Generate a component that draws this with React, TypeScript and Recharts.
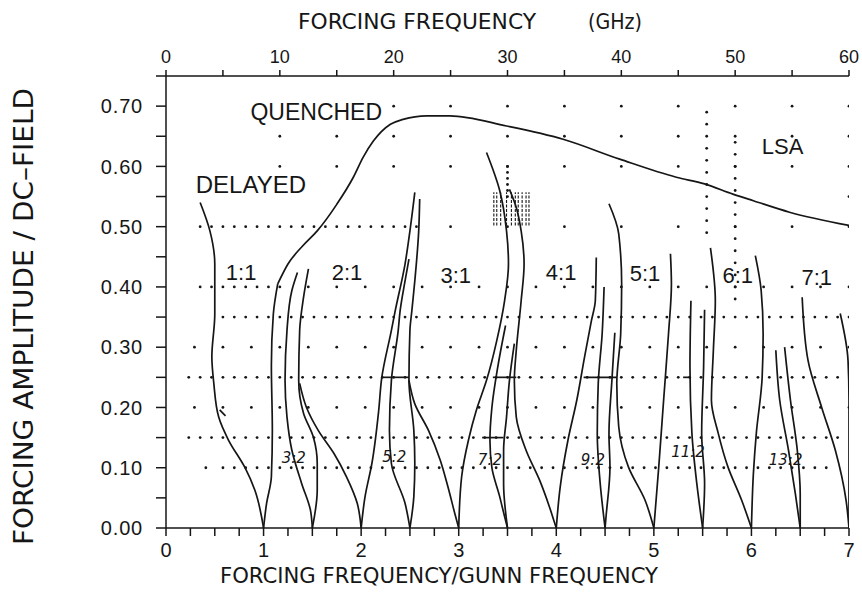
import React from "react";
import {
  ComposedChart,
  Line,
  Scatter,
  XAxis,
  YAxis,
  ReferenceDot,
  Customized,
} from "recharts";

// [ratio, amplitude] pairs
const delayed = [[1.0, 0], [0.91, 0.063], [0.81, 0.1], [0.64, 0.146], [0.54, 0.184], [0.49, 0.24], [0.47, 0.284], [0.5, 0.355], [0.5, 0.438], [0.45, 0.493], [0.35, 0.54]];
const delayedTick = [[0.55, 0.196], [0.61, 0.186]];
const oneOneRight = [[1.0, 0], [1.03, 0.04], [1.08, 0.085], [1.09, 0.162], [1.08, 0.27], [1.1, 0.355], [1.145, 0.405]];
const quenched = [[1.145, 0.405], [1.25, 0.438], [1.4, 0.468], [1.55, 0.493], [1.75, 0.537], [1.92, 0.582], [2.02, 0.615], [2.125, 0.642], [2.3, 0.67], [2.43, 0.678], [2.67, 0.684], [2.91, 0.684], [3.49, 0.667], [4.07, 0.645], [4.65, 0.612], [5.23, 0.582], [5.52, 0.571], [5.81, 0.554], [6.02, 0.543], [6.39, 0.524], [7.0, 0.502]];

const t32L = [[1.5, 0], [1.48, 0.03], [1.39, 0.074], [1.29, 0.129], [1.24, 0.184], [1.22, 0.245], [1.24, 0.328], [1.29, 0.394], [1.347, 0.424]];
const t32R = [[1.5, 0], [1.55, 0.063], [1.55, 0.107], [1.51, 0.151], [1.41, 0.19], [1.36, 0.245], [1.37, 0.328], [1.41, 0.383], [1.46, 0.43]];
const t21L = [[2.0, 0], [1.96, 0.041], [1.85, 0.085], [1.72, 0.124], [1.56, 0.162], [1.44, 0.2], [1.37, 0.24]];
const t21R = [[2.0, 0], [2.04, 0.052], [2.11, 0.107], [2.18, 0.195], [2.21, 0.248], [2.31, 0.328], [2.35, 0.361], [2.45, 0.438], [2.5, 0.493], [2.55, 0.557]];
const t52L = [[2.5, 0], [2.45, 0.041], [2.31, 0.107], [2.29, 0.162], [2.31, 0.245], [2.38, 0.328], [2.4, 0.361], [2.45, 0.41], [2.49, 0.446]];
const t52R = [[2.5, 0], [2.54, 0.052], [2.55, 0.107], [2.54, 0.162], [2.49, 0.245], [2.5, 0.328], [2.52, 0.361], [2.55, 0.41], [2.59, 0.493], [2.6, 0.546]];
const t31L = [[3.0, 0], [2.96, 0.024], [2.89, 0.068], [2.81, 0.113], [2.69, 0.162], [2.55, 0.206], [2.49, 0.245]];
const t31R = [[3.0, 0], [3.03, 0.085], [3.1, 0.146], [3.18, 0.195], [3.285, 0.245], [3.39, 0.311], [3.47, 0.377], [3.51, 0.438], [3.49, 0.493], [3.42, 0.56], [3.285, 0.623]];
const t72L = [[3.5, 0], [3.47, 0.019], [3.42, 0.052], [3.34, 0.1], [3.32, 0.146], [3.34, 0.2], [3.4, 0.267], [3.48, 0.336]];
const t72R = [[3.5, 0], [3.46, 0.074], [3.46, 0.129], [3.49, 0.184], [3.52, 0.245], [3.57, 0.306]];
const t41L = [[4.0, 0], [3.98, 0.01], [3.93, 0.035], [3.83, 0.079], [3.69, 0.129], [3.59, 0.184], [3.57, 0.245], [3.59, 0.295], [3.64, 0.377], [3.67, 0.438], [3.64, 0.493], [3.59, 0.532], [3.52, 0.562]];
const t41R = [[4.0, 0], [4.04, 0.068], [4.12, 0.146], [4.21, 0.212], [4.29, 0.284], [4.36, 0.344], [4.4, 0.377], [4.41, 0.449]];
const t92L = [[4.5, 0], [4.45, 0.074], [4.42, 0.157], [4.43, 0.24], [4.47, 0.322], [4.49, 0.4]];
const t92R = [[4.5, 0], [4.51, 0.019], [4.55, 0.101], [4.54, 0.157], [4.57, 0.245], [4.6, 0.324]];
const t51L = [[5.0, 0], [4.91, 0.046], [4.74, 0.101], [4.64, 0.168], [4.62, 0.24], [4.66, 0.322], [4.67, 0.405], [4.64, 0.488], [4.54, 0.538]];
const t51R = [[5.0, 0], [5.05, 0.101], [5.1, 0.212], [5.15, 0.322], [5.18, 0.405], [5.17, 0.455]];
const t112L = [[5.5, 0], [5.44, 0.074], [5.39, 0.157], [5.37, 0.267], [5.38, 0.377]];
const t112R = [[5.5, 0], [5.52, 0.074], [5.49, 0.157], [5.51, 0.267], [5.52, 0.362]];
const t61L = [[6.0, 0], [5.9, 0.046], [5.76, 0.101], [5.66, 0.157], [5.59, 0.212], [5.61, 0.295], [5.63, 0.377], [5.58, 0.465]];
const t61R = [[6.0, 0], [6.02, 0.09], [6.05, 0.157], [6.11, 0.25], [6.12, 0.322], [6.1, 0.394], [6.04, 0.452]];
const t132L = [[6.5, 0], [6.45, 0.057], [6.38, 0.129], [6.29, 0.212], [6.25, 0.295]];
const t132R = [[6.5, 0], [6.5, 0.057], [6.47, 0.129], [6.4, 0.212], [6.34, 0.3]];
const t71L = [[7.0, 0], [6.97, 0.046], [6.86, 0.129], [6.72, 0.2], [6.58, 0.278], [6.52, 0.383]];
const t71R = [[7.0, 0], [7.0, 0.212], [6.99, 0.278], [6.91, 0.356]];

// short solid bars [ratioFrom, ratioTo, amplitude]
const bars = [[2.21, 2.49, 0.25], [3.35, 3.59, 0.25], [3.24, 3.46, 0.15], [4.28, 4.62, 0.25], [5.3, 5.38, 0.25]];
// hatched strokes near 30 GHz
const hatchRatios = [3.36, 3.39, 3.43, 3.49, 3.54, 3.58, 3.61, 3.65, 3.69, 3.72];
const hatchSpan = [0.502, 0.557];

// dotted rows [amplitude, fromGHz, toGHz, stepGHz]
const dotRows = [
  [0.7, 20, 60, 5], [0.65, 10, 60, 5], [0.6, 10, 60, 5], [0.55, 60, 60, 5],
  [0.5, 3, 22, 1], [0.5, 25, 60, 5],
  [0.4, 3, 10, 1], [0.4, 12.5, 60, 2.5],
  [0.35, 5, 60, 1], [0.3, 2.5, 60, 2.5], [0.25, 2, 59, 1],
  [0.2, 2.5, 60, 2.5], [0.15, 2, 59, 1], [0.1, 5, 58, 1], [0.1, 3.5, 3.5, 1],
];
// dotted columns [GHz, fromAmp, toAmp, stepAmp]
const dotCols = [[47.5, 0.49, 0.7, 0.02], [50, 0.38, 0.65, 0.02], [30, 0.55, 0.6, 0.01]];

const bigLabels = [
  ["QUENCHED", 1.54, 0.69, 23], ["DELAYED", 0.87, 0.57, 24], ["LSA", 6.32, 0.634, 22],
  ["1:1", 0.77, 0.424, 22], ["2:1", 1.855, 0.424, 22], ["3:1", 2.97, 0.42, 22], ["4:1", 4.05, 0.424, 22],
  ["5:1", 4.91, 0.422, 22], ["6:1", 5.86, 0.419, 22], ["7:1", 6.67, 0.416, 22],
];
const handLabels = [
  ["3:2", 1.31, 0.116], ["5:2", 2.34, 0.118], ["7:2", 3.32, 0.113],
  ["9:2", 4.375, 0.113], ["11:2", 5.35, 0.126], ["13:2", 6.35, 0.113],
];

const ratioTicks = Array.from({ length: 29 }, (_, i) => i * 0.25);
const ghzTicks = Array.from({ length: 13 }, (_, i) => i * 5);
const ampTicks = Array.from({ length: 16 }, (_, i) => Math.round(i * 5) / 100);

const toPts = (arr: number[][]) => arr.map(([r, a]) => ({ r, a }));

const curves = [
  { id: "delayed", d: delayed, t: "monotoneY" },
  { id: "delayedTick", d: delayedTick, t: "linear" },
  { id: "oneOneRight", d: oneOneRight, t: "monotoneY" },
  { id: "quenched", d: quenched, t: "monotoneX" },
  ...[t32L, t32R, t21L, t21R, t52L, t52R, t31L, t31R, t72L, t72R, t41L, t41R, t92L, t92R, t51L, t51R, t112L, t112R, t61L, t61R, t132L, t132R, t71L, t71R].map(
    (d, i) => ({ id: "tongue" + i, d, t: "monotoneY" })
  ),
];

const gridDots: { g: number; a: number }[] = [];
dotRows.forEach(([a, from, to, step]) => {
  for (let g = from; g <= to + 1e-6; g += step) gridDots.push({ g, a });
});
dotCols.forEach(([g, from, to, step]) => {
  for (let a = from; a <= to + 1e-6; a += step) gridDots.push({ g, a });
});

const INK = "#161616";
const TICK_FONT = "'Liberation Sans', Arial, sans-serif";
const TITLE_FONT = "'DejaVu Sans Condensed', 'Liberation Sans Narrow', sans-serif";

const Titles = () => (
  <g fill={INK} fontFamily={TITLE_FONT}>
    <text x={298} y={29} fontSize={22} textLength={238} lengthAdjust="spacingAndGlyphs">FORCING FREQUENCY</text>
    <text x={588} y={29} fontSize={22} textLength={54} lengthAdjust="spacingAndGlyphs">(GHz)</text>
    <text x={220} y={583} fontSize={21} textLength={438} lengthAdjust="spacingAndGlyphs">FORCING FREQUENCY/GUNN FREQUENCY</text>
    <text transform="translate(33,545) rotate(-90)" fontSize={26} textLength={457} lengthAdjust="spacingAndGlyphs">
      FORCING  AMPLITUDE  /  DC–FIELD
    </text>
  </g>
);

export default function App() {
  return (
    <div style={{ position: "absolute", left: 0, top: 0, background: "#fff" }}>
      <ComposedChart width={862} height={609} margin={{ top: 0, right: 13, bottom: 0, left: 0 }}>
        <XAxis
          xAxisId="r"
          dataKey="r"
          type="number"
          domain={[0, 7]}
          ticks={ratioTicks}
          allowDataOverflow
          height={81}
          stroke={INK}
          strokeWidth={1.5}
          tickSize={8}
          tickMargin={7}
          tick={{ fill: INK, fontSize: 20, fontFamily: TICK_FONT }}
          tickFormatter={(v: number) => (Number.isInteger(v) ? String(v) : "")}
        />
        <XAxis
          xAxisId="ghz"
          dataKey="g"
          type="number"
          orientation="top"
          domain={[0, 60]}
          ticks={ghzTicks}
          allowDataOverflow
          height={76}
          stroke={INK}
          strokeWidth={1.5}
          tickSize={6}
          tickMargin={7}
          tick={{ fill: INK, fontSize: 18, fontFamily: TICK_FONT }}
          tickFormatter={(v: number) => (v % 10 === 0 ? String(v) : "")}
        />
        <YAxis
          yAxisId="amp"
          dataKey="a"
          type="number"
          domain={[0, 0.75]}
          ticks={ampTicks}
          allowDataOverflow
          width={166}
          stroke={INK}
          strokeWidth={1.5}
          tickSize={10}
          tickMargin={13}
          tick={{ fill: INK, fontSize: 20, fontFamily: TICK_FONT, letterSpacing: 0.8 }}
          tickFormatter={(v: number) =>
            Math.round(v * 100) % 10 === 0 && v <= 0.7 ? v.toFixed(2) : ""
          }
        />

        <Scatter
          xAxisId="ghz"
          yAxisId="amp"
          data={gridDots}
          isAnimationActive={false}
          shape={(p: any) => <circle cx={p.cx} cy={p.cy} r={1.4} fill={INK} />}
        />

        {curves.map((c) => (
          <Line
            key={c.id}
            xAxisId="r"
            yAxisId="amp"
            data={toPts(c.d)}
            dataKey="a"
            type={c.t as any}
            stroke={INK}
            strokeWidth={1.7}
            dot={false}
            activeDot={false}
            isAnimationActive={false}
          />
        ))}

        {bars.map(([from, to, a], i) => (
          <Line
            key={"bar" + i}
            xAxisId="r"
            yAxisId="amp"
            data={toPts([[from, a], [to, a]])}
            dataKey="a"
            type="linear"
            stroke={INK}
            strokeWidth={1.7}
            dot={false}
            activeDot={false}
            isAnimationActive={false}
          />
        ))}

        {hatchRatios.map((r, i) => (
          <Line
            key={"hatch" + i}
            xAxisId="r"
            yAxisId="amp"
            data={toPts([[r, hatchSpan[0]], [r, hatchSpan[1]]])}
            dataKey="a"
            type="linear"
            stroke={INK}
            strokeWidth={1.1}
            strokeDasharray="3 1.5"
            dot={false}
            activeDot={false}
            isAnimationActive={false}
          />
        ))}

        {bigLabels.map(([text, r, a, fs]) => (
          <ReferenceDot
            key={text as string}
            xAxisId="r"
            yAxisId="amp"
            x={r as number}
            y={a as number}
            r={0}
            stroke="none"
            label={{ value: text as string, position: "center", fill: INK, fontSize: fs as number, fontFamily: TICK_FONT }}
          />
        ))}
        {handLabels.map(([text, r, a]) => (
          <ReferenceDot
            key={text as string}
            xAxisId="r"
            yAxisId="amp"
            x={r as number}
            y={a as number}
            r={0}
            stroke="none"
            label={{ value: text as string, position: "center", fill: INK, fontSize: 15, fontStyle: "italic", fontFamily: "'DejaVu Sans', sans-serif" }}
          />
        ))}

        <Customized component={Titles} />
      </ComposedChart>
    </div>
  );
}
